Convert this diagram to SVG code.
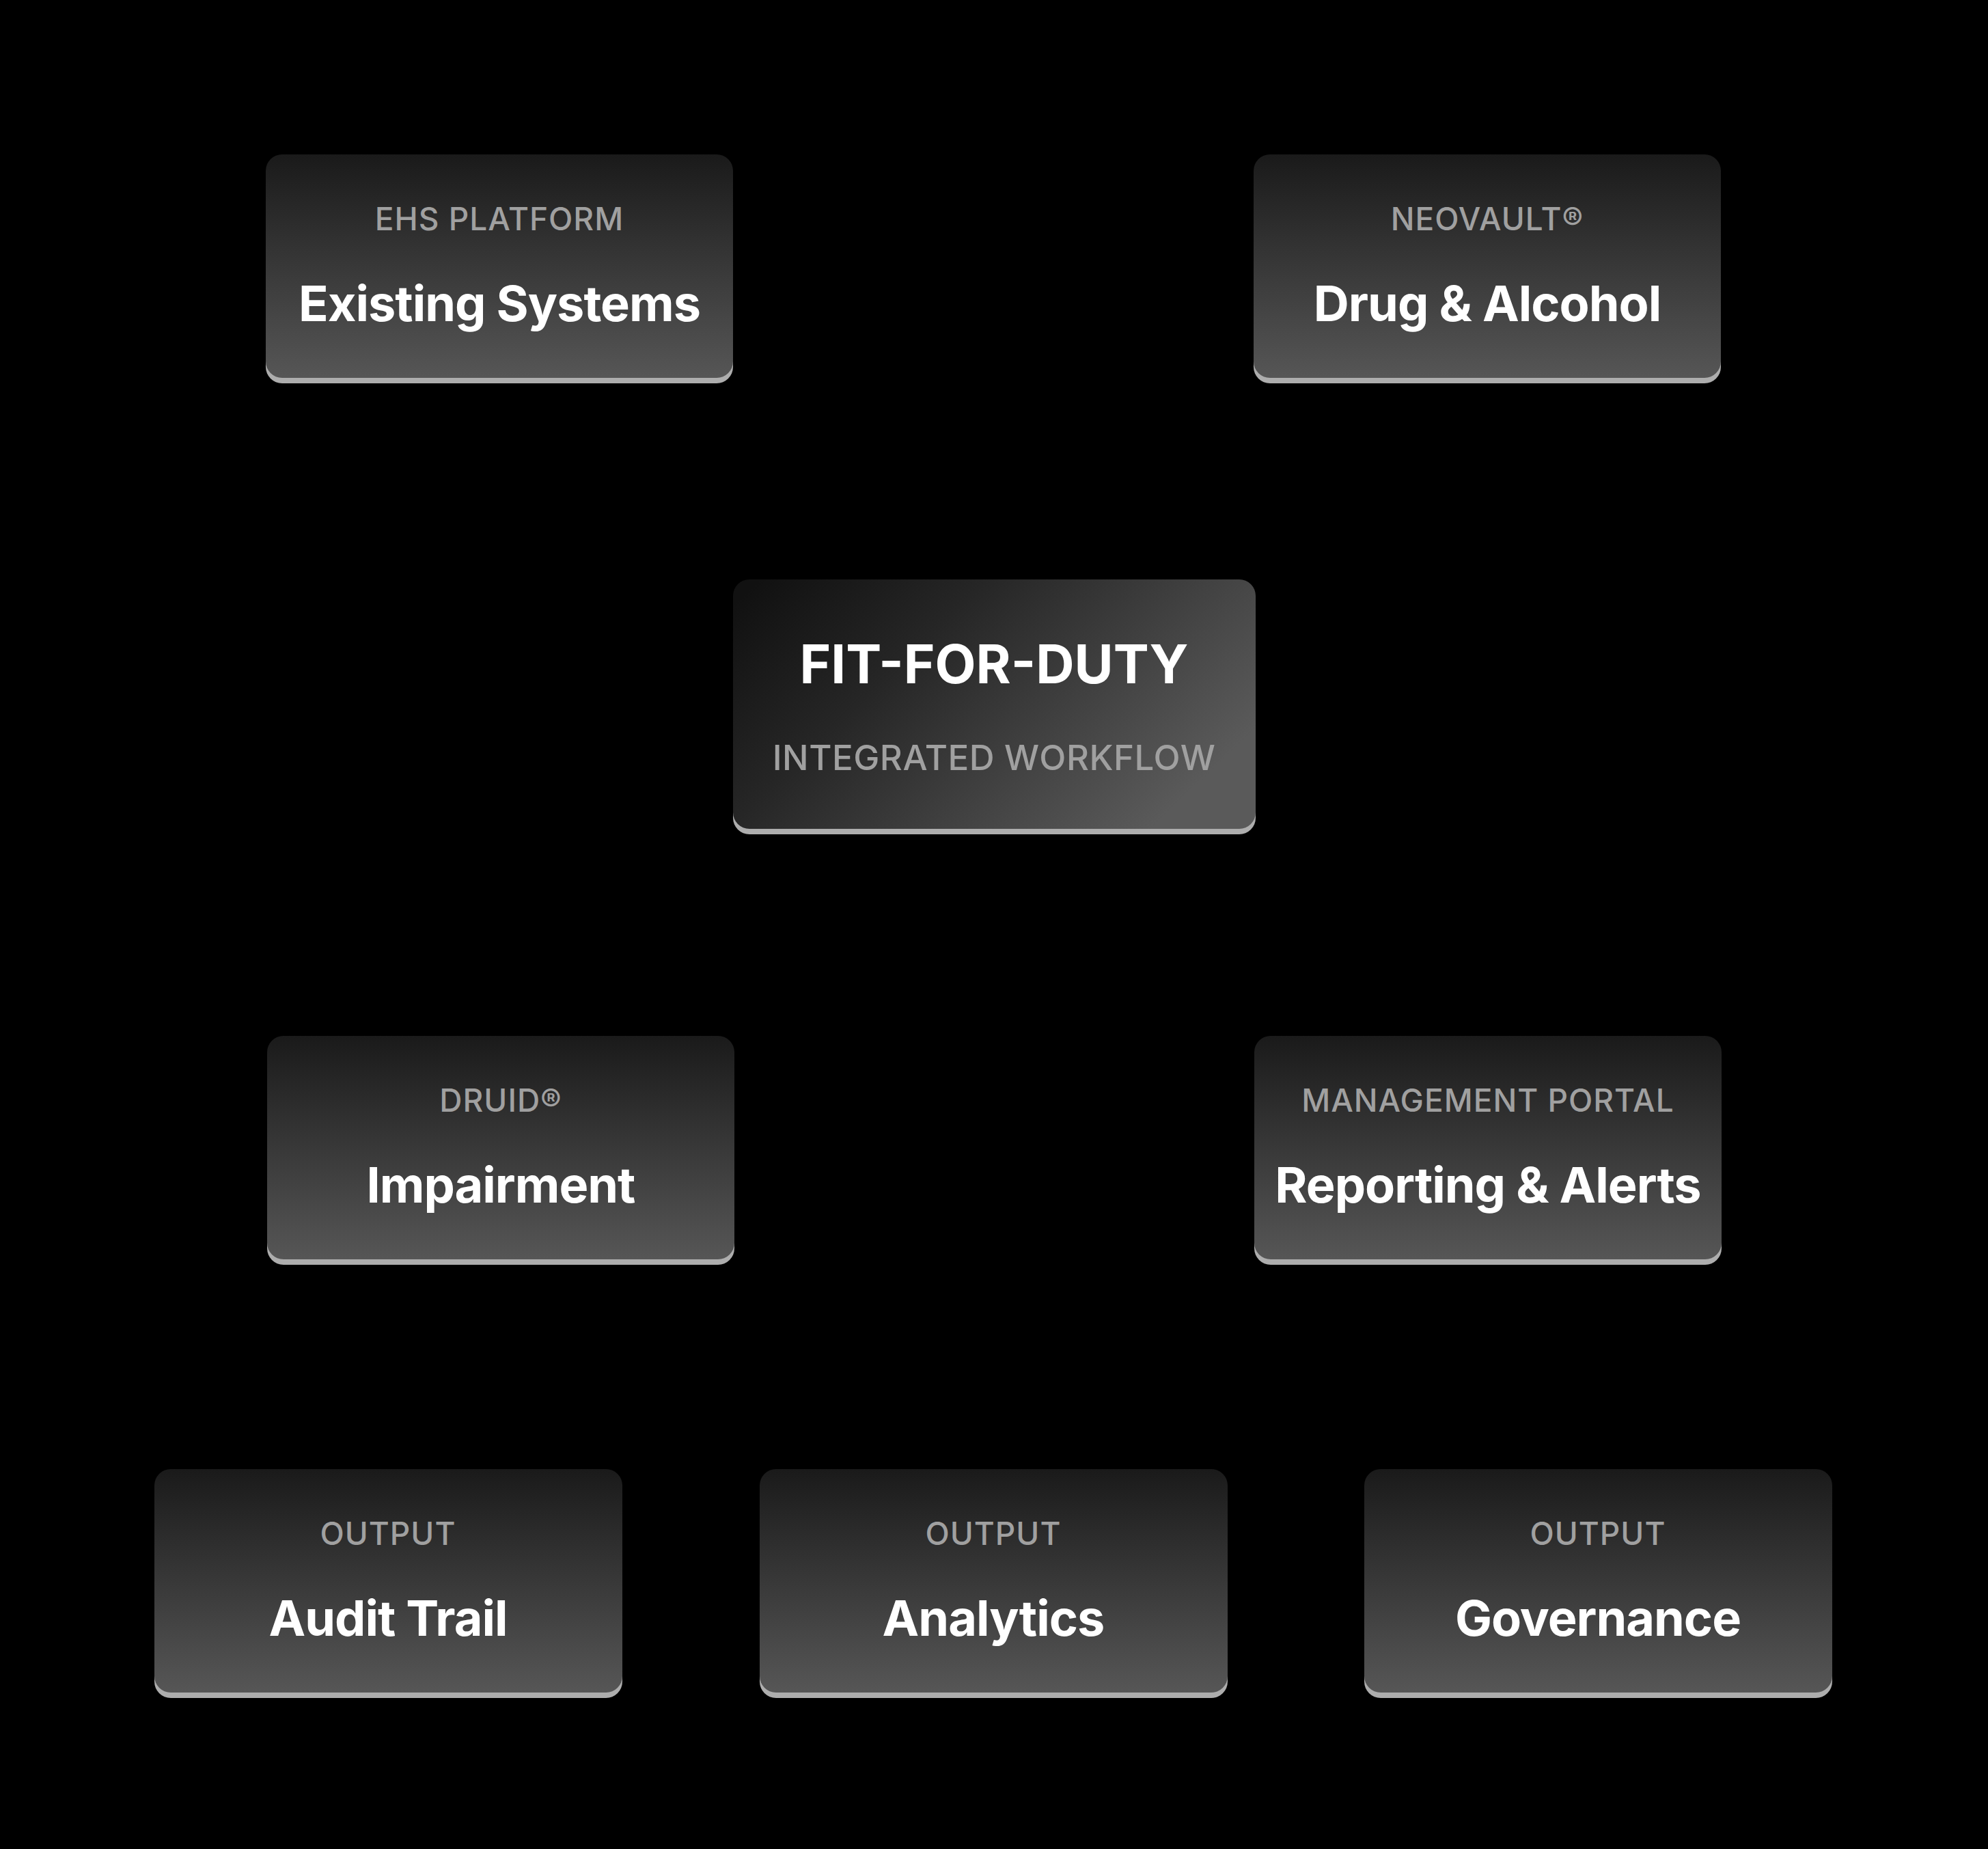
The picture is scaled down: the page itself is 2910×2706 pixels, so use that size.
<svg xmlns="http://www.w3.org/2000/svg" width="2910" height="2706" viewBox="0 0 2910 2706">
  <defs>
    <linearGradient id="gNode" x1="0" y1="0" x2="0" y2="1">
      <stop offset="0" stop-color="#1a1a1a"/>
      <stop offset="1" stop-color="#565656"/>
    </linearGradient>
    <linearGradient id="gCenter" x1="0" y1="0.1" x2="1" y2="0.6">
      <stop offset="0" stop-color="#111111"/>
      <stop offset="0.35" stop-color="#262626"/>
      <stop offset="1" stop-color="#5a5a5a"/>
    </linearGradient>
  </defs>
  <style>
    .edge { fill: #adadad; }
    .body { fill: url(#gNode); }
    .center { fill: url(#gCenter); }
    .label { font-family: Inter, "Liberation Sans", sans-serif; font-weight: 500; font-size: 46px; fill: #a0a0a0; letter-spacing: 1px; text-anchor: middle; }
    .title { font-family: Inter, "Liberation Sans", sans-serif; font-weight: 700; font-size: 72px; fill: #ffffff; letter-spacing: -1px; text-anchor: middle; }
    .ctitle { font-family: Inter, "Liberation Sans", sans-serif; font-weight: 700; font-size: 78px; fill: #ffffff; letter-spacing: 0px; text-anchor: middle; }
    .csub { font-family: Inter, "Liberation Sans", sans-serif; font-weight: 500; font-size: 51px; fill: #a0a0a0; letter-spacing: 0.5px; text-anchor: middle; }
  </style>
  <rect x="0" y="0" width="2910" height="2706" fill="#000000"/>

  <g id="connectors">
    <circle cx="1457" cy="1223" r="6" fill="#000000"/>
  </g>

  <g id="n-existing">
    <rect class="edge" x="389" y="234" width="684" height="327" rx="24"/>
    <rect class="body" x="389" y="226" width="684" height="327" rx="24"/>
    <text class="label" x="731" y="337">EHS PLATFORM</text>
    <text class="title" x="731" y="470">Existing Systems</text>
  </g>

  <g id="n-drug">
    <rect class="edge" x="1835" y="234" width="684" height="327" rx="24"/>
    <rect class="body" x="1835" y="226" width="684" height="327" rx="24"/>
    <text class="label" x="2177" y="337">NEOVAULT®</text>
    <text class="title" x="2177" y="470">Drug &amp; Alcohol</text>
  </g>

  <g id="n-fitforduty">
    <rect class="edge" x="1073" y="856" width="765" height="365" rx="24"/>
    <rect class="center" x="1073" y="848" width="765" height="365" rx="24"/>
    <text class="ctitle" x="1455" y="1000">FIT-FOR-DUTY</text>
    <text class="csub" x="1455" y="1127">INTEGRATED WORKFLOW</text>
  </g>

  <g id="n-impairment">
    <rect class="edge" x="391" y="1524" width="684" height="327" rx="24"/>
    <rect class="body" x="391" y="1516" width="684" height="327" rx="24"/>
    <text class="label" x="733" y="1627">DRUID®</text>
    <text class="title" x="733" y="1760">Impairment</text>
  </g>

  <g id="n-reporting">
    <rect class="edge" x="1836" y="1524" width="684" height="327" rx="24"/>
    <rect class="body" x="1836" y="1516" width="684" height="327" rx="24"/>
    <text class="label" x="2178" y="1627">MANAGEMENT PORTAL</text>
    <text class="title" x="2178" y="1760">Reporting &amp; Alerts</text>
  </g>

  <g id="n-audit">
    <rect class="edge" x="226" y="2158" width="685" height="327" rx="24"/>
    <rect class="body" x="226" y="2150" width="685" height="327" rx="24"/>
    <text class="label" x="568" y="2261">OUTPUT</text>
    <text class="title" x="568" y="2394">Audit Trail</text>
  </g>

  <g id="n-analytics">
    <rect class="edge" x="1112" y="2158" width="685" height="327" rx="24"/>
    <rect class="body" x="1112" y="2150" width="685" height="327" rx="24"/>
    <text class="label" x="1454" y="2261">OUTPUT</text>
    <text class="title" x="1454" y="2394">Analytics</text>
  </g>

  <g id="n-governance">
    <rect class="edge" x="1997" y="2158" width="685" height="327" rx="24"/>
    <rect class="body" x="1997" y="2150" width="685" height="327" rx="24"/>
    <text class="label" x="2339" y="2261">OUTPUT</text>
    <text class="title" x="2339" y="2394">Governance</text>
  </g>
</svg>
